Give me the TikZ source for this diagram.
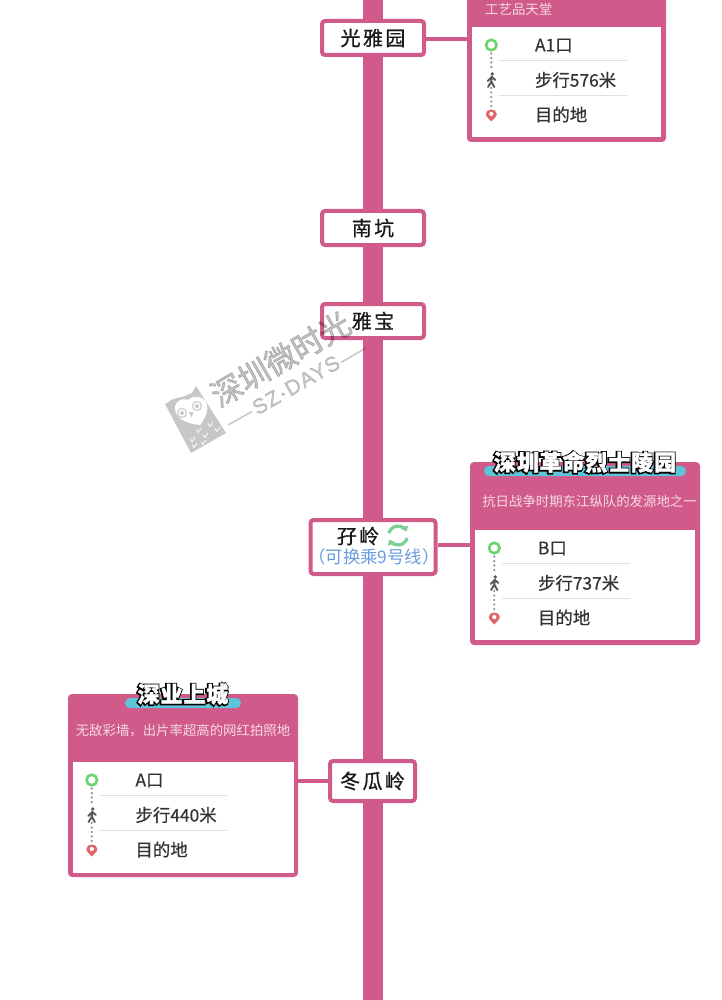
\documentclass[tikz,border=0pt]{standalone}
\usepackage{fontspec}
\setmainfont{Noto Sans CJK SC}
\newfontfamily\stationfont[LetterSpace=12,FakeBold=0.8]{Noto Sans CJK SC}
\newfontfamily\titleback[LetterSpace=4,FakeBold=13]{Noto Sans CJK SC}
\newfontfamily\titlefront[LetterSpace=4,FakeBold=1.5]{Noto Sans CJK SC}
\newfontfamily\rowfont[FakeBold=0.5]{Noto Sans CJK SC}
\newfontfamily\stampfont[FakeBold=2.5]{Noto Sans CJK SC}
\newfontfamily\stamplatin[LetterSpace=6,FakeBold=1.5]{Liberation Sans}
\usetikzlibrary{arrows.meta,calc}
\definecolor{linepink}{HTML}{D05A8A}
\definecolor{subpink}{HTML}{F6D9E5}
\definecolor{bannerblue}{HTML}{5EC4D8}
\definecolor{ringgreen}{HTML}{6CD46C}
\definecolor{pinred}{HTML}{E0666A}
\definecolor{transferblue}{HTML}{6A9BE0}
\definecolor{swapgreen}{HTML}{7CCF96}
\def\stationlist{{(373,38)/guangya/光雅园/102/34}, {(373,228)/nankeng/南坑/102/34}, {(373,321)/yabao/雅宝/102/34}, {(373,547)/maling/{}/125/54}, {(372.5,781)/donggualing/冬瓜岭/85/40}}
\def\cardlist{{(566.5,41)/A/199/202/189/110/27}, {(585,553.5)/B/230/183/220/110/530}, {(183,785.5)/C/230/183/221/111/762}}
\def\entrylist{A/A1口/步行576米, B/B口/步行737米, C/A口/步行440米}
\tikzstyle{trackline} = [draw=linepink, line width=20pt]
\tikzstyle{branch} = [draw=linepink, line width=3.5pt]
\tikzstyle{station}=[draw=linepink, line width=4pt, fill=white, rounded corners=3pt, inner sep=0pt, font=\stationfont\fontsize{20}{24}\selectfont, text=black!90]
\tikzstyle{card}=[fill=linepink, rounded corners=4pt, inner sep=0pt]
\tikzstyle{cardbody}=[fill=white, inner sep=0pt]
\tikzstyle{banner}=[fill=bannerblue, rounded corners=5pt, inner sep=0pt, minimum height=10pt]
\tikzstyle{subtitle}=[text=subpink, inner sep=0pt, font=\fontsize{13.4}{16}\selectfont]
\tikzstyle{rowtext}=[anchor=west, inner sep=0pt, text=black!80, font=\rowfont\fontsize{17.4}{20}\selectfont]
\tikzstyle{gate}=[circle, draw=ringgreen, line width=2.6pt, fill=white, minimum size=10.5pt, inner sep=0pt]
\tikzstyle{trail}=[draw=black!48, line width=2.3pt, line cap=round, dash pattern=on 0pt off 4.5pt]
\tikzstyle{rowsep}=[draw=black!12, line width=0.9pt]
\tikzstyle{swaparc}=[draw=swapgreen, line width=3.2pt, -{Triangle[length=5pt,width=8pt]}]
\tikzstyle{stamp}=[opacity=0.22]
\newcommand{\walker}[1]{
  \begin{scope}[shift={(#1)}]
    \fill[black!65] (1,-6) circle (1.9pt);
    \draw[black!65, line width=1.9pt, line cap=round] (0.6,-3.5) -- (0,1.5) -- (3,7) (0,1.5) -- (-3.2,7) (0.4,-3) -- (-3.6,1) (0.6,-3) -- (4,0);
  \end{scope}
}
\newcommand{\destpin}[1]{
  \begin{scope}[shift={(#1)}]
    \fill[pinred] (0,6.5) .. controls (-2,3.5) and (-5.5,2) .. (-5.5,-1) .. controls (-5.5,-4) and (-3,-5.5) .. (0,-5.5) .. controls (3,-5.5) and (5.5,-4) .. (5.5,-1) .. controls (5.5,2) and (2,3.5) .. (0,6.5);
    \fill[white] (0,-1) circle (2.1pt);
  \end{scope}
}
\newcommand{\titletext}[3]{
  \node[text=black, inner sep=0pt, font=\titleback\bfseries\fontsize{22}{26}\selectfont] (#1back) at ([xshift=-0.5pt,yshift=-0.5pt]#2) {#3};
  \node[text=white, inner sep=0pt, font=\titlefront\bfseries\fontsize{22}{26}\selectfont] (#1title) at (#2) {#3};
}

\begin{document}
\begin{tikzpicture}[x=1pt,y=-1pt]
  \useasboundingbox (0,0) rectangle (721,1000);
  \clip (0,0) rectangle (721,1000);

  \coordinate (linetop) at (373,-5);
  \coordinate (linebottom) at (373,1005);
  \path[trackline] (linetop) -- (linebottom);

  \foreach \pos/\name/\w/\h/\bw/\bh/\btop in \cardlist {
    \node[card, minimum width=\w pt, minimum height=\h pt] (card\name) at \pos {};
  }
  \foreach \pos/\name/\w/\h/\bw/\bh/\btop in \cardlist {
    \path \pos coordinate (c);
    \node[cardbody, minimum width=\bw pt, minimum height=\bh pt, anchor=north] (body\name) at (c |- 0,\btop) {};
  }

  \foreach \pos/\name/\label/\w/\h in \stationlist {
    \node[station, minimum width=\w pt, minimum height=\h pt] (\name) at \pos {\label};
  }
  \path[branch] ([yshift=-1pt]guangya.east) -- ([yshift=-1pt]guangya.east -| cardA.west);
  \path[branch] ([yshift=2pt]maling.east) -- ([yshift=2pt]maling.east -| cardB.west);
  \path[branch] (donggualing.west) -- (donggualing.west -| cardC.east);

  % transfer station text
  \node[inner sep=0pt, text=black!90, font=\stationfont\fontsize{20}{24}\selectfont] (malingname) at (358,536) {孖岭};
  \node[inner sep=0pt, text=transferblue, font=\fontsize{17.4}{20}\selectfont] (malingnote) at (374,557) {（可换乘9号线）};
  \coordinate (swap) at (398,535.5);
  \draw[swaparc] ([shift={(165:9.5pt)}]swap) arc[start angle=165, end angle=25, radius=9.5pt];
  \draw[swaparc] ([shift={(-15:9.5pt)}]swap) arc[start angle=-15, end angle=-155, radius=9.5pt];

  % headers of the cards
  \node[subtitle, anchor=west] (subA) at (485,9) {工艺品天堂};
  \node[banner, minimum width=202pt] (bannerB) at (585,471) {};
  \titletext{B}{585,462}{深圳革命烈士陵园}
  \node[subtitle] (subB) at (589.5,501.5) {抗日战争时期东江纵队的发源地之一};
  \node[banner, minimum width=116pt] (bannerC) at (183,703) {};
  \titletext{C}{183,694}{深业上城}
  \node[subtitle] (subC) at (183,730.5) {无敌彩墙，出片率超高的网红拍照地};

  % route rows
  \foreach \name/\gatename/\walk in \entrylist {
    \node[gate] (gate\name) at ([xshift=19.5pt,yshift=-18pt]body\name.north west) {};
    \coordinate (walk\name) at ([xshift=19.5pt,yshift=-53pt]body\name.north west);
    \coordinate (pin\name) at ([xshift=19.5pt,yshift=-88pt]body\name.north west);
    \path[trail] ([yshift=-2pt]gate\name.south) -- ([yshift=9pt]walk\name);
    \path[trail] ([yshift=-8pt]walk\name) -- ([yshift=7pt]pin\name);
    \walker{walk\name}
    \destpin{pin\name}
    \node[rowtext] (entry\name) at ([xshift=63pt,yshift=-18.5pt]body\name.north west) {\gatename};
    \node[rowtext] (route\name) at ([xshift=63pt,yshift=-53pt]body\name.north west) {\walk};
    \node[rowtext] (goal\name) at ([xshift=63pt,yshift=-87.5pt]body\name.north west) {目的地};
    \path[rowsep] ([xshift=27pt,yshift=-33.5pt]body\name.north west) -- ++(128,0);
    \path[rowsep] ([xshift=27pt,yshift=-68pt]body\name.north west) -- ++(128,0);
  }

  % watermark
  \begin{scope}[stamp]
    \node[rotate=30, inner sep=0pt, text=black, font=\stampfont\fontsize{31}{34}\selectfont] (markname) at (280.5,359) {深圳微时光};
    \node[rotate=30, inner sep=0pt, text=black, font=\stamplatin\fontsize{21}{24}\selectfont] (marksub) at (296,385) {SZ·DAYS};
    \draw[black, line width=1.5pt] (228,425) -- (252,411.5) (341,362.5) -- (365,348.5);
    \fill[black] (165,404) -- (173,399) -- (182,397) -- (192,393) -- (196,386) -- (226,433) -- (191,453) -- cycle;
  \end{scope}
  \fill[white] (188,400) .. controls (180,397) and (172,404) .. (176,413) .. controls (180,421) and (190,424) .. (200,425) .. controls (206,418) and (209,409) .. (206,402) .. controls (203,396) and (193,395) .. (188,400) -- cycle;
  \begin{scope}[stamp]
    \draw[black, line width=1pt] (182,413) circle (4.5pt) (197,406) circle (4.5pt);
    \fill[black] (182,413) circle (2pt) (197,406) circle (2pt) (189,412) -- (193,412) -- (192,418) -- cycle;
  \end{scope}
  \foreach \vx/\vy in {198/431, 210/425, 192/440, 205/436, 217/430, 194/446, 203/443} {
    \draw[white, line width=0.8pt] (\vx-2,\vy-1.5) -- (\vx,\vy+1.5) -- (\vx+3,\vy-3);
  }
\end{tikzpicture}
\end{document}
